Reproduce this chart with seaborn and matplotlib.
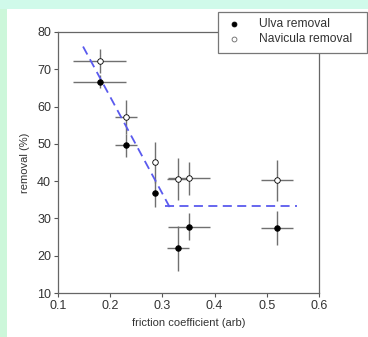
import matplotlib
matplotlib.use("Agg")
import matplotlib.pyplot as plt
import seaborn as sns
import pandas as pd
from matplotlib.patches import Rectangle
from matplotlib.lines import Line2D

# ---- data ----
ulva_x = [0.180, 0.230, 0.285, 0.330, 0.351, 0.520]
ulva_y = [66.7, 49.6, 36.8, 22.0, 27.8, 27.5]
ulva_xerr = [0.051, 0.021, 0.0, 0.021, 0.041, 0.031]
ulva_yerr = [1.8, 3.0, 3.7, 6.0, 3.7, 4.6]

nav_x = [0.180, 0.230, 0.285, 0.330, 0.351, 0.520]
nav_y = [72.2, 57.2, 45.1, 40.5, 40.8, 40.3]
nav_xerr = [0.051, 0.021, 0.0, 0.022, 0.040, 0.031]
nav_yerr = [3.2, 4.6, 5.5, 5.6, 4.4, 5.5]

fit1_x = [0.148, 0.316]
fit1_y = [76.1, 32.5]
fit2_x = [0.305, 0.557]
fit2_y = [33.3, 33.3]

series_labels = ["Ulva removal", "Navicula removal"]
xticks = [0.1, 0.2, 0.3, 0.4, 0.5, 0.6]
yticks = [10, 20, 30, 40, 50, 60, 70, 80]

sns.set_style("white")
plt.rcParams['font.family'] = ['Liberation Sans', 'DejaVu Sans']

W, H = 368, 337
fig = plt.figure(figsize=(W / 100, H / 100), dpi=100)
fig.patch.set_facecolor("white")
# background bands
fig.patches.append(Rectangle((0, 0), 7 / W, 1, transform=fig.transFigure,
                             facecolor="#ccf7da", edgecolor="none", zorder=0))
fig.patches.append(Rectangle((0, 1 - 9 / H), 1, 9 / H, transform=fig.transFigure,
                             facecolor="#d0faea", edgecolor="none", zorder=0))

ax = fig.add_axes([58 / W, 1 - 293 / H, (319 - 58) / W, (293 - 32) / H])
ax.set_facecolor("white")

df_u = pd.DataFrame({"x": ulva_x, "y": ulva_y})
df_n = pd.DataFrame({"x": nav_x, "y": nav_y})

ecol = "#707070"
ax.errorbar(ulva_x, ulva_y, xerr=ulva_xerr, yerr=ulva_yerr, fmt="none",
            ecolor=ecol, elinewidth=1.0, capsize=0, zorder=2)
ax.errorbar(nav_x, nav_y, xerr=nav_xerr, yerr=nav_yerr, fmt="none",
            ecolor=ecol, elinewidth=1.0, capsize=0, zorder=2)

ax.plot(fit1_x, fit1_y, linestyle=(0, (5, 3)), color="#5a5aee", lw=1.3, zorder=3)
ax.plot(fit2_x, fit2_y, linestyle=(0, (5, 3)), color="#5a5aee", lw=1.3, zorder=3)

sns.scatterplot(data=df_u, x="x", y="y", ax=ax, color="black", s=16,
                edgecolor="black", linewidth=0.6, zorder=4, legend=False)
sns.scatterplot(data=df_n, x="x", y="y", ax=ax, color="white", s=16,
                edgecolor="black", linewidth=0.6, zorder=4, legend=False)

ax.set_xlim(0.1, 0.6)
ax.set_ylim(10, 80)
ax.set_xticks(xticks)
ax.set_yticks(yticks)
ax.set_xticklabels([f"{t:.1f}" for t in xticks])
ax.set_yticklabels([str(t) for t in yticks])
ax.tick_params(axis="both", which="both", direction="out", length=3, width=0.8,
               color="#555555", labelsize=9, labelcolor="#333333", pad=2,
               left=True, bottom=True)
for s in ax.spines.values():
    s.set_color("#666666")
    s.set_linewidth(0.9)

ax.set_xlabel("friction coefficient (arb)", fontsize=8, color="#333333", labelpad=4)
ax.set_ylabel("removal (%)", fontsize=8, color="#333333", labelpad=5)

# ---- legend box (drawn in figure pixel coordinates) ----
def fx(px):
    return px / W

def fy(py):
    return 1 - py / H

fig.add_artist(Rectangle((fx(218), fy(53)), fx(367) - fx(218), fy(12) - fy(53),
                         transform=fig.transFigure, facecolor="white",
                         edgecolor="#777777", linewidth=0.9, zorder=10))
marker_styles = [dict(markerfacecolor="black", markeredgecolor="black"),
                 dict(markerfacecolor="white", markeredgecolor="#666666")]
for i, (lab, ms) in enumerate(zip(series_labels, marker_styles)):
    yy = fy(24 + 15 * i)
    fig.add_artist(Line2D([fx(234)], [yy], transform=fig.transFigure,
                          marker="o", linestyle="none", markersize=3.5,
                          markeredgewidth=0.6, zorder=11, **ms))
    fig.text(fx(259), yy, lab, fontsize=8.7, color="#333333",
             ha="left", va="center", zorder=11)

fig.savefig("out.png", dpi=100, facecolor=fig.get_facecolor())
